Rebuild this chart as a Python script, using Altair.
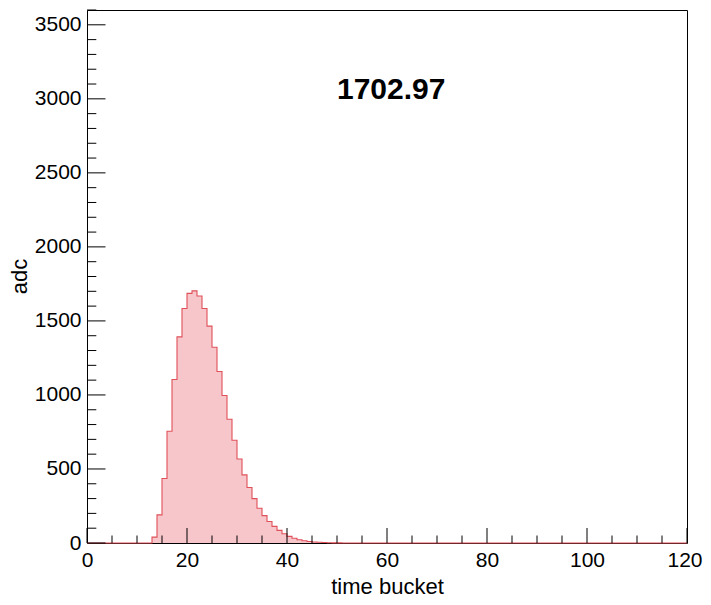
import altair as alt
import pandas as pd

# ---- data (bin width 1, time buckets 0..119) ----
counts = (
    [0] * 13
    + [40, 190, 436, 755, 1104, 1392, 1584, 1686, 1702.97, 1668,
       1584, 1465, 1322, 1158, 996, 836, 694, 567, 460, 375,
       300, 235, 185, 145, 112, 85, 62, 45, 32, 22,
       15, 10, 7, 5, 3, 2, 1, 1]
    + [0] * 69
)
bin_edges = list(range(0, 121))

x_major = [0, 20, 40, 60, 80, 100, 120]
x_minor = [5, 10, 15, 25, 30, 35, 45, 50, 55, 65, 70, 75, 85, 90, 95, 105, 110, 115]
y_major = [0, 500, 1000, 1500, 2000, 2500, 3000, 3500]
y_minor = [100, 200, 300, 400, 600, 700, 800, 900, 1100, 1200, 1300, 1400,
           1600, 1700, 1800, 1900, 2100, 2200, 2300, 2400, 2600, 2700, 2800,
           2900, 3100, 3200, 3300, 3400, 3600]

peak_label_x = [50]
peak_label_y = [3000]

FONT = "Liberation Sans"
W, H = 600, 533

hist = pd.DataFrame({"t": bin_edges, "adc": counts + [counts[-1]]})
label_df = pd.DataFrame({"t": peak_label_x, "adc": peak_label_y,
                         "label": [f"{max(counts):.2f}"]})

xs = alt.Scale(domain=[0, 120], nice=False, zero=False)
ys = alt.Scale(domain=[0, 3600], nice=False)

xaxis = alt.Axis(values=x_major, format="d", ticks=False, tickSize=0, domain=False, grid=False,
                 labelFont=FONT, labelFontSize=21, labelColor="black",
                 labelPadding=6, labelFlush=False,
                 labelOffset={"expr": "datum.value == 120 ? -2.5 : 0"},
                 titleFont=FONT, titleFontSize=22, titleFontWeight="normal",
                 titleColor="black", titleBaseline="alphabetic", titleY=50)
yaxis = alt.Axis(values=y_major, format="d", ticks=False, tickSize=0, domain=False, grid=False,
                 labelFont=FONT, labelFontSize=21, labelColor="black",
                 labelPadding=6, labelFlush=False,
                 titleFont=FONT, titleFontSize=22, titleFontWeight="normal",
                 titleColor="black", titleAngle=270, titleAlign="center",
                 titleBaseline="alphabetic", titleX=-61, titleY=266)


def X(field="t"):
    return alt.X(f"{field}:Q", scale=xs, title="time bucket", axis=xaxis)


def Y(field="adc"):
    return alt.Y(f"{field}:Q", scale=ys, title="adc", axis=yaxis)


area = alt.Chart(hist).mark_area(interpolate="step-after", color="#f6c6ca").encode(
    x=X(), y=Y())

outline = alt.Chart(hist).mark_line(interpolate="step-after", color="#e0505a",
                                     strokeWidth=1.1).encode(x=X(), y=Y())

xmaj = alt.Chart(pd.DataFrame({"t": x_major})).mark_rule(color="black", strokeWidth=1).encode(
    x=X(), y=alt.value(H), y2=alt.value(H - 15))
xmin = alt.Chart(pd.DataFrame({"t": x_minor})).mark_rule(color="black", strokeWidth=1).encode(
    x=X(), y=alt.value(H), y2=alt.value(H - 7.5))
ymaj = alt.Chart(pd.DataFrame({"adc": y_major})).mark_rule(color="black", strokeWidth=1).encode(
    y=Y(), x=alt.value(0), x2=alt.value(18.5))
ymin = alt.Chart(pd.DataFrame({"adc": y_minor})).mark_rule(color="black", strokeWidth=1).encode(
    y=Y(), x=alt.value(0), x2=alt.value(9.3))

text = alt.Chart(label_df).mark_text(font=FONT, fontSize=30, fontWeight="bold",
                                      align="left", baseline="alphabetic",
                                      color="black").encode(
    x=X(), y=Y(), text="label:N")

chart = alt.layer(area, outline, xmaj, xmin, ymaj, ymin, text).properties(
    width=W, height=H,
    autosize=alt.AutoSizeParams(type="none"),
    padding={"left": 79, "top": 2, "right": 16, "bottom": 54},
    background="white",
).configure_view(stroke="black", strokeWidth=1)

chart.save("out.html", embed_options={"renderer": "svg", "actions": False})
